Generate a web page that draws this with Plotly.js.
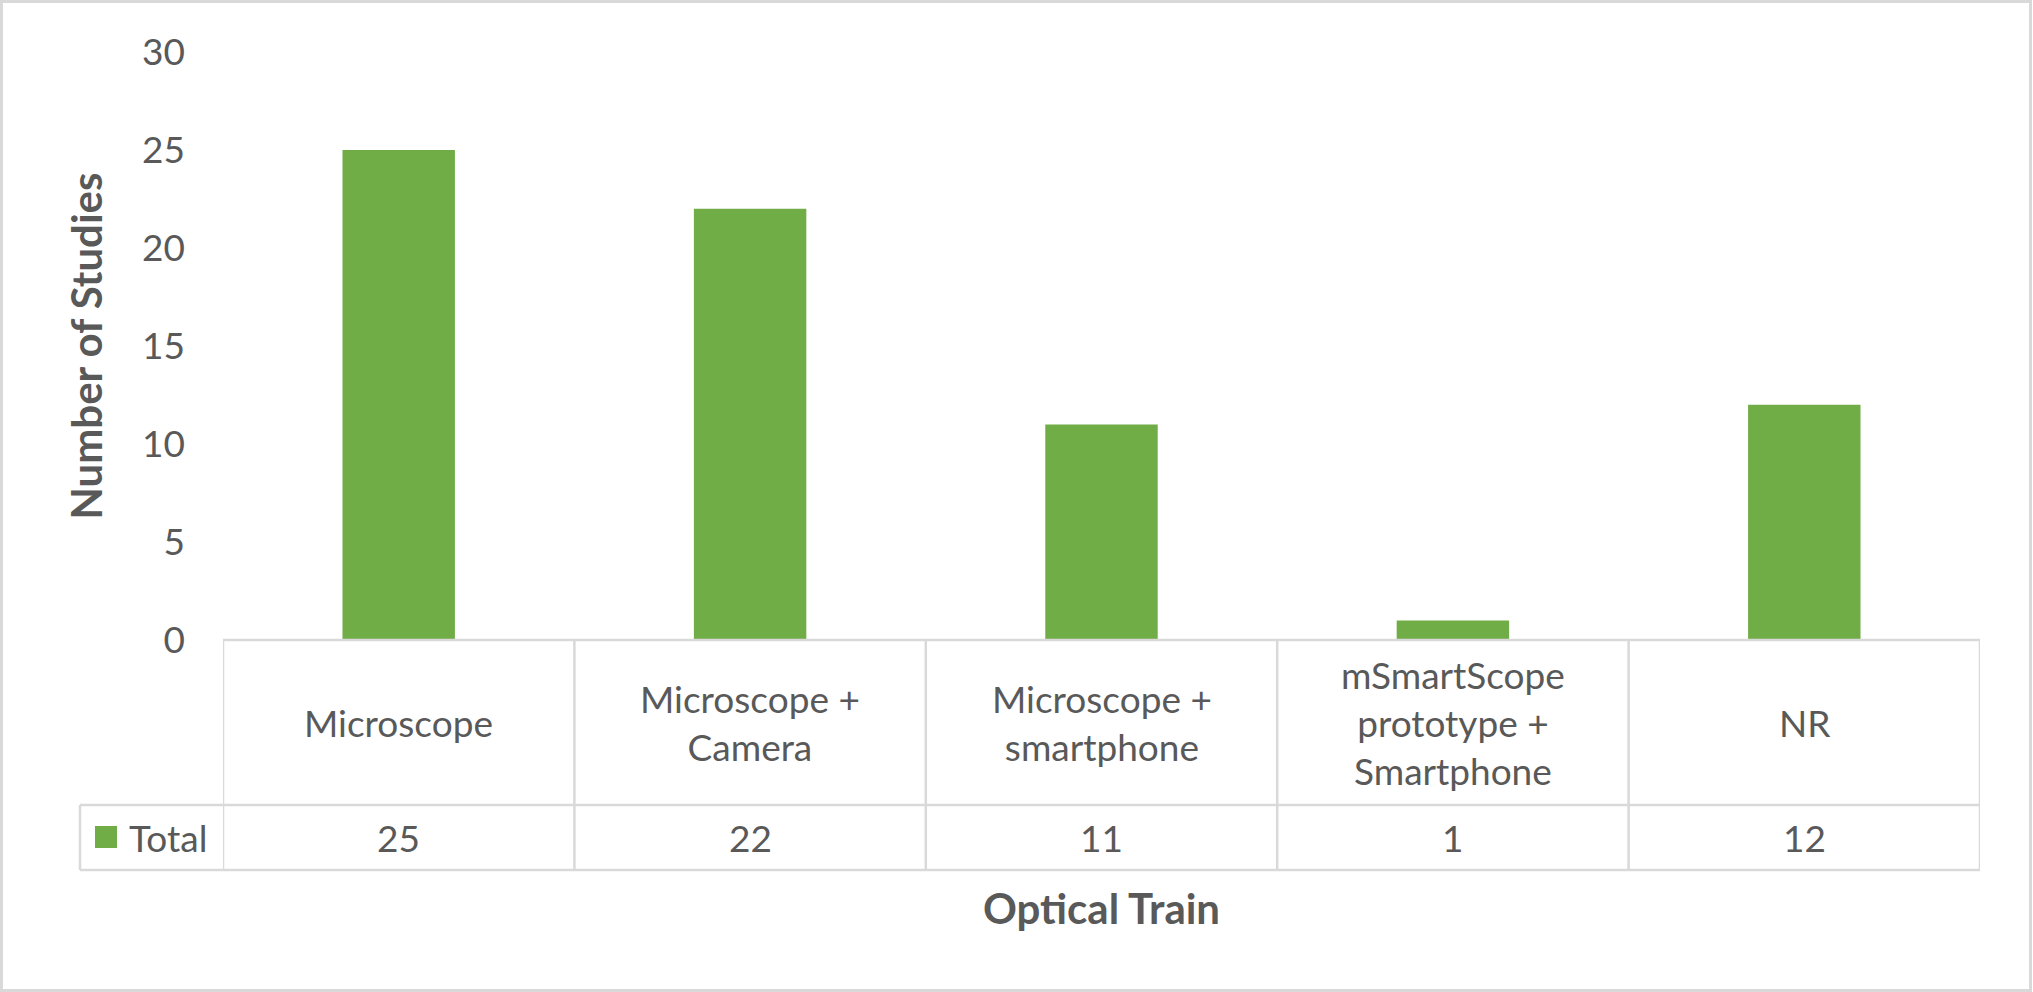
<!DOCTYPE html>
<html>
<head>
<meta charset="utf-8">
<script src="https://cdn.plot.ly/plotly-3.0.1.min.js"></script>
<style>html,body{margin:0;padding:0;background:#fff;}#chart{width:2033px;height:992px;}</style>
</head>
<body>
<div id="chart"></div>
<script>
// ---- data ----
const categories = ["Microscope", "Microscope + Camera", "Microscope + smartphone", "mSmartScope prototype + Smartphone", "NR"];
const categoryLabels = ["Microscope", "Microscope +<br>Camera", "Microscope +<br>smartphone", "mSmartScope<br>prototype +<br>Smartphone", "NR"];
const totals = [25, 22, 11, 1, 12];
const seriesName = "Total";
const yTicks = [0, 5, 10, 15, 20, 25, 30];

// ---- layout helpers (pixel -> paper) ----
const W = 2033, H = 992, L = 223, R = 1980, T = 52, B = 640;
const px2x = p => (p - L) / (R - L);
const py2y = p => (B - p) / (B - T);
const GRID = '#d9d9d9', TXT = '#595959', GREEN = '#70AD47', FONT = 'Lato, "Open Sans", sans-serif';
const fsTick = 37, fsTitle = 42;

const rowMid = 805, rowBot = 870;
const shapes = [];
// outer chart border
shapes.push({type:'rect', xref:'paper', yref:'paper', x0:px2x(1.5), x1:px2x(2030.5), y0:py2y(1.5), y1:py2y(990.5), line:{color:GRID, width:3}, layer:'below'});
// table horizontal lines
shapes.push({type:'line', xref:'paper', yref:'paper', x0:0, x1:1, y0:py2y(B), y1:py2y(B), line:{color:GRID, width:2.5}});
[rowMid, rowBot].forEach(py => shapes.push({type:'line', xref:'paper', yref:'paper', x0:px2x(80), x1:1, y0:py2y(py), y1:py2y(py), line:{color:GRID, width:2.5}}));
// table vertical lines at category boundaries
for (let k = 0; k <= categories.length; k++) {
  shapes.push({type:'line', xref:'x', yref:'paper', x0:k - 0.5, x1:k - 0.5, y0:py2y(B), y1:py2y(rowBot), line:{color:GRID, width:2.5}});
}
// legend column left edge
shapes.push({type:'line', xref:'paper', yref:'paper', x0:px2x(80), x1:px2x(80), y0:py2y(rowMid), y1:py2y(rowBot), line:{color:GRID, width:2.5}});
// legend key square
shapes.push({type:'rect', xref:'paper', yref:'paper', x0:px2x(95), x1:px2x(117), y0:py2y(826), y1:py2y(848), fillcolor:GREEN, line:{width:0}});

const annotations = [];
categories.forEach((c, i) => {
  annotations.push({xref:'x', yref:'paper', x:c, y:py2y(722), text:categoryLabels[i], showarrow:false, align:'center', xanchor:'center', yanchor:'middle', font:{family:FONT, size:fsTick, color:TXT}});
  annotations.push({xref:'x', yref:'paper', x:c, y:py2y(837), text:String(totals[i]), showarrow:false, xanchor:'center', yanchor:'middle', font:{family:FONT, size:fsTick, color:TXT}});
});
annotations.push({xref:'paper', yref:'paper', x:px2x(127), y:py2y(837), text:seriesName, showarrow:false, xanchor:'left', yanchor:'middle', font:{family:FONT, size:fsTick, color:TXT}});

const data = [{
  type:'bar', x:categories, y:totals, name:seriesName,
  marker:{color:GREEN}, hoverinfo:'x+y'
}];

const layout = {
  width:W, height:H,
  margin:{l:L, r:W - R, t:T, b:H - B, pad:0},
  paper_bgcolor:'#fff', plot_bgcolor:'#fff',
  showlegend:false,
  bargap:0.68,
  font:{family:FONT, color:TXT},
  xaxis:{
    type:'category', range:[-0.5, categories.length - 0.5],
    showticklabels:false, showgrid:false, zeroline:false, showline:false, ticks:'',
    automargin:false,
    title:{text:'<b>Optical Train</b>', font:{family:FONT, size:fsTitle, color:TXT}, standoff:254}
  },
  yaxis:{
    range:[0, 30], tickvals:yTicks, ticktext:yTicks.map(String),
    showgrid:false, zeroline:false, showline:false, ticks:'',
    tickfont:{family:FONT, size:fsTick, color:TXT},
    ticklabelstandoff:37,
    automargin:false,
    title:{text:'<b>Number of Studies</b>', font:{family:FONT, size:fsTitle, color:TXT}, standoff:26}
  },
  shapes:shapes,
  annotations:annotations
};

Plotly.newPlot('chart', data, layout, {displayModeBar:false, staticPlot:true});
</script>
</body>
</html>
